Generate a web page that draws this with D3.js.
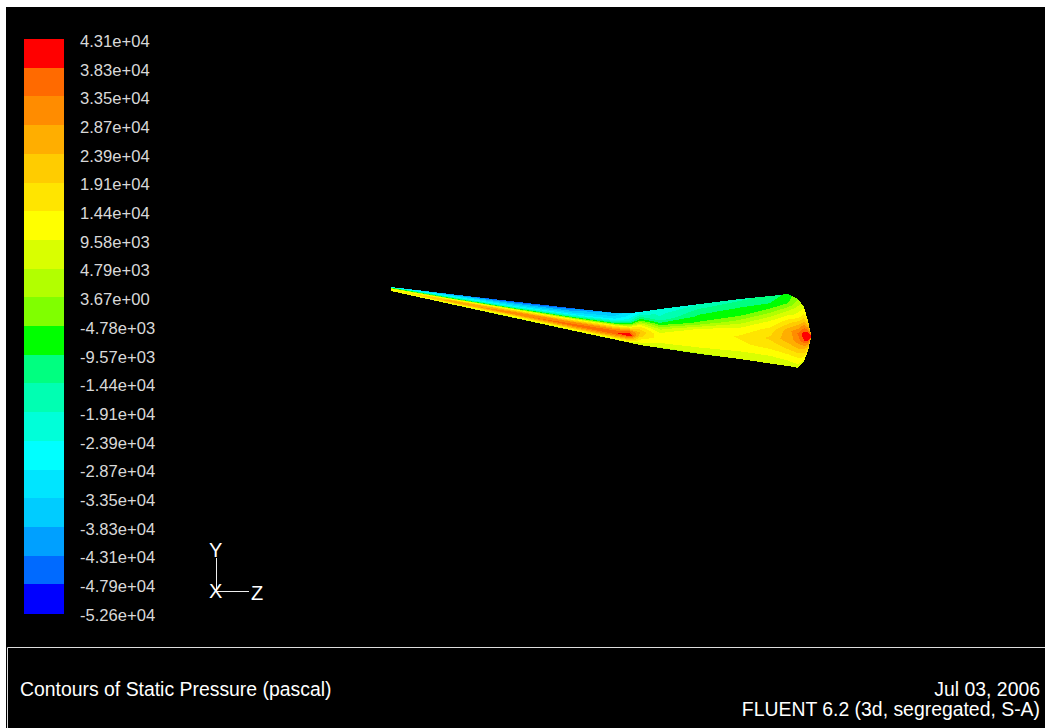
<!DOCTYPE html>
<html>
<head>
<meta charset="utf-8">
<script src="https://cdn.jsdelivr.net/npm/d3@7"></script>
<style>
  html, body { margin: 0; padding: 0; background: #fff; overflow: hidden; }
  text { font-family: "Liberation Sans", Arial, sans-serif; fill: #fff; }
</style>
</head>
<body>
<div id="chart"></div>
<script>
// Legend: labels top to bottom and their values in Pa
const tickLabels = ["4.31e+04", "3.83e+04", "3.35e+04", "2.87e+04", "2.39e+04", "1.91e+04", "1.44e+04",
  "9.58e+03", "4.79e+03", "3.67e+00", "-4.78e+03", "-9.57e+03", "-1.44e+04", "-1.91e+04", "-2.39e+04",
  "-2.87e+04", "-3.35e+04", "-3.83e+04", "-4.31e+04", "-4.79e+04", "-5.26e+04"];
const tickValues = tickLabels.map(d => +d);

// One colour per band, the band sits below its label
const bandColors = ["#ff0000", "#ff6a00", "#ff8c00", "#ffae00", "#ffcc00", "#ffe500", "#ffff00",
  "#d9ff00", "#b2ff00", "#80ff00", "#00ff00", "#00ff80", "#00ffb2", "#00ffd9", "#00ffff",
  "#00e5ff", "#00ccff", "#00a0ff", "#006aff", "#0000ff"];

// Wing outline, one entry per spanwise station
const stationZ = [0, 59, 119, 179, 224, 239, 249, 269, 309, 349, 379, 397, 407, 413, 417, 420];
const upperEdge = [0, 7, 14, 21, 26, 26, 25, 22, 17, 12, 9, 7, 12, 20, 34, 47];
const lowerEdge = [4, 17, 30, 43, 52.6, 55.8, 58, 61, 67, 72, 76.5, 79, 81, 74, 64, 51];

// Static pressure in kPa, one column per station, leading edge to trailing edge
const pressure = [
  [-30, -20, -8, 5, 10, 12, 14, 10, 8],
  [-42, -32, -24, -12, 12, 24, 26, 16, 5],
  [-48, -38, -30, -18, 12, 28, 32, 18, 4],
  [-46, -38, -30, -14, 12, 30, 36, 24, 5],
  [-38, -33, -27, -10, 16, 32, 38, 26, 6],
  [-30, -27, -20, -6, 16, 34, 43, 26, 6],
  [-26, -16, -6, 8, 18, 24, 20, 12, 6],
  [-23, -20, -18, -8, 3, 10, 12, 9.5, 4],
  [-19, -13, -8, -4, 10, 11, 12.5, 9.5, 4],
  [-16, -10, -7, 2, 11, 15, 13.5, 9.5, 5],
  [-13, -9, 0, 10, 16, 20, 16, 10, 5],
  [-8, -5, 6, 16, 26, 27, 20, 12, 6],
  [0, 6, 12, 24, 34, 30, 22, 13, 7],
  [8, 14, 22, 32, 42, 38, 26, 18, 9],
  [16, 22, 30, 38, 44, 42, 32, 22, 14],
  [25, 30, 36, 42, 44, 42, 36, 30, 25]
];

const width = 1045, height = 728;

const svg = d3.select("#chart")
  .append("svg")
  .attr("width", width)
  .attr("height", height)
  .style("display", "block");

// Black graphics window with the title panel at the bottom
svg.append("rect")
  .attr("x", 6).attr("y", 7)
  .attr("width", width - 6).attr("height", height - 7)
  .attr("fill", "#000");

svg.append("path")
  .attr("d", d3.line()([[1045, 647.5], [7.5, 647.5], [7.5, 728]]))
  .attr("fill", "none")
  .attr("stroke", "#ddd");

/* Colour legend */
const legendY = d3.scalePoint()
  .domain(tickLabels)
  .range([41, 615]);

svg.append("g")
  .attr("shape-rendering", "crispEdges")
  .selectAll("rect")
  .data(bandColors)
  .join("rect")
    .attr("x", 24)
    .attr("y", (d, i) => legendY(tickLabels[i]) - 2)
    .attr("width", 39.5)
    .attr("height", legendY.step() + 0.5)
    .attr("fill", d => d);

svg.append("g")
  .attr("transform", "translate(80, 0)")
  .call(d3.axisRight(legendY).tickSize(0).tickPadding(0))
  .call(g => g.select(".domain").remove())
  .call(g => g.selectAll("text")
    .style("font-family", '"Liberation Sans", Arial, sans-serif')
    .style("font-size", "16.6px")
    .style("fill", "#d8d8d8"));

/* Wing surface: filled contours of the pressure grid, mapped onto the outline */
const zScale = d3.scaleLinear().domain([0, 420]).range([391, 811]);
const yScale = d3.scaleLinear().domain([0, 81]).range([287, 368]);

const nz = stationZ.length, nv = pressure[0].length;
const atStation = values => d3.scaleLinear().domain(d3.range(nz)).range(values).clamp(true);
const zAt = atStation(stationZ), upAt = atStation(upperEdge), lowAt = atStation(lowerEdge);
const chord = d3.scaleLinear().domain([0, nv - 1]).range([0, 1]).clamp(true);

// d3.contours puts grid values at cell centres, hence the half cell
const wingPath = d3.geoPath(d3.geoTransform({
  point(x, y) {
    const s = x - 0.5, v = chord(y - 0.5);
    const up = upAt(s), low = lowAt(s);
    this.stream.point(zScale(zAt(s)), yScale(up + (low - up) * v));
  }
}));

const grid = [];
for (let j = 0; j < nv; j++) {
  for (let i = 0; i < nz; i++) grid.push(pressure[i][j]);
}

const levels = tickValues.slice(1).reverse().map(d => d / 1000);  // ascending, in kPa
const levelColors = bandColors.slice().reverse();

const contours = d3.contours()
  .size([nz, nv])
  .thresholds(levels)(grid);

svg.append("g")
  .selectAll("path")
  .data(contours)
  .join("path")
    .attr("d", wingPath)
    .attr("fill", (d, i) => levelColors[i])
    .attr("shape-rendering", "crispEdges");

/* Axis triad */
const triad = svg.append("g").attr("stroke", "#eee").attr("fill", "none");
triad.append("path").attr("d", d3.line()([[216.5, 558], [216.5, 591]]));
triad.append("path").attr("d", d3.line()([[216, 591.5], [249, 591.5]]));

svg.append("g")
  .style("font-size", "20px")
  .selectAll("text")
  .data(["Y", "X", "Z"])
  .join("text")
    .attr("x", d => d === "Z" ? 251 : 209)
    .attr("y", d => d === "Y" ? 557 : d === "X" ? 598 : 600)
    .text(d => d);

/* Title panel */
svg.append("text")
  .attr("x", 20).attr("y", 696)
  .style("font-size", "19.4px")
  .text("Contours of Static Pressure (pascal)");

svg.append("text")
  .attr("x", 1040).attr("y", 696)
  .attr("text-anchor", "end")
  .style("font-size", "19.4px")
  .text("Jul 03, 2006");

svg.append("text")
  .attr("x", 1040).attr("y", 716)
  .attr("text-anchor", "end")
  .style("font-size", "19.4px")
  .text("FLUENT 6.2 (3d, segregated, S-A)");
</script>
</body>
</html>
